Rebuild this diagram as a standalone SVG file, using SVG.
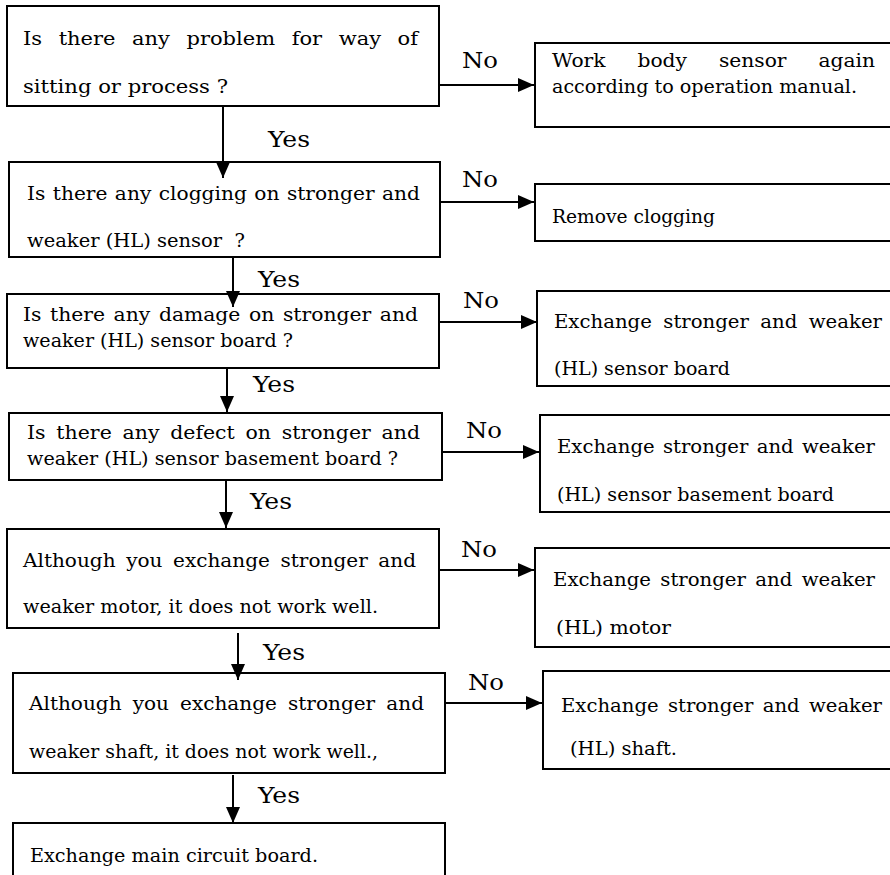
<svg xmlns="http://www.w3.org/2000/svg" width="890" height="875" viewBox="0 0 890 875">
<style>
.box{fill:#fff;stroke:#000;stroke-width:2}
.t{font-family:"DejaVu Serif","Liberation Serif",serif;font-size:19px;fill:#000}
.lbl{font-family:"DejaVu Serif","Liberation Serif",serif;font-size:23px;fill:#000}
.c{stroke:#000;stroke-width:2;fill:none}
</style>
<defs>
<marker id="ah" markerUnits="userSpaceOnUse" markerWidth="16" markerHeight="14" refX="16" refY="7" orient="auto">
<path d="M0,0 L16,7 L0,14 z" fill="#000"/>
</marker>
</defs>
<rect width="890" height="875" fill="#fff"/>
<g id="n1"><rect class="box" x="7" y="6" width="432" height="100"/>
<text class="t" x="23" y="45" word-spacing="9" textLength="395" lengthAdjust="spacingAndGlyphs">Is there any problem for way of</text>
<text class="t" x="23" y="93" textLength="205" lengthAdjust="spacingAndGlyphs">sitting or process ?</text></g>
<g id="n2"><rect class="box" x="9" y="162" width="431" height="95"/>
<text class="t" x="27" y="200" word-spacing="1" textLength="393" lengthAdjust="spacingAndGlyphs">Is there any clogging on stronger and</text>
<text class="t" x="27" y="247" textLength="218" lengthAdjust="spacingAndGlyphs" xml:space="preserve">weaker (HL) sensor  ?</text></g>
<g id="n3"><rect class="box" x="7" y="294" width="432" height="74"/>
<text class="t" x="23" y="321" word-spacing="2" textLength="395" lengthAdjust="spacingAndGlyphs">Is there any damage on stronger and</text>
<text class="t" x="23" y="347" textLength="270" lengthAdjust="spacingAndGlyphs">weaker (HL) sensor board ?</text></g>
<g id="n4"><rect class="box" x="9" y="413" width="433" height="67"/>
<text class="t" x="27" y="439" word-spacing="4" textLength="393" lengthAdjust="spacingAndGlyphs">Is there any defect on stronger and</text>
<text class="t" x="27" y="465" textLength="371" lengthAdjust="spacingAndGlyphs">weaker (HL) sensor basement board ?</text></g>
<g id="n5"><rect class="box" x="7" y="529" width="432" height="99"/>
<text class="t" x="23" y="567" word-spacing="4" textLength="393" lengthAdjust="spacingAndGlyphs">Although you exchange stronger and</text>
<text class="t" x="23" y="613" textLength="355" lengthAdjust="spacingAndGlyphs">weaker motor, it does not work well.</text></g>
<g id="n6"><rect class="box" x="13" y="673" width="432" height="100"/>
<text class="t" x="29" y="710" word-spacing="4.5" textLength="395" lengthAdjust="spacingAndGlyphs">Although you exchange stronger and</text>
<text class="t" x="29" y="758" textLength="349" lengthAdjust="spacingAndGlyphs">weaker shaft, it does not work well.,</text></g>
<g id="n7"><rect class="box" x="13" y="823" width="432" height="62"/>
<text class="t" x="30" y="862" textLength="288" lengthAdjust="spacingAndGlyphs">Exchange main circuit board.</text></g>
<g id="r1"><rect class="box" x="535" y="43" width="362" height="84"/>
<text class="t" x="552" y="67" word-spacing="24" textLength="323" lengthAdjust="spacingAndGlyphs">Work body sensor again</text>
<text class="t" x="552" y="93" textLength="305" lengthAdjust="spacingAndGlyphs">according to operation manual.</text></g>
<g id="r2"><rect class="box" x="535" y="184" width="362" height="57"/>
<text class="t" x="552" y="223" textLength="163" lengthAdjust="spacingAndGlyphs">Remove clogging</text></g>
<g id="r3"><rect class="box" x="537" y="291" width="360" height="95"/>
<text class="t" x="554" y="328" word-spacing="5" textLength="328" lengthAdjust="spacingAndGlyphs">Exchange stronger and weaker</text>
<text class="t" x="554" y="375" textLength="176" lengthAdjust="spacingAndGlyphs">(HL) sensor board</text></g>
<g id="r4"><rect class="box" x="540" y="415" width="357" height="97"/>
<text class="t" x="557" y="453" word-spacing="2" textLength="318" lengthAdjust="spacingAndGlyphs">Exchange stronger and weaker</text>
<text class="t" x="557" y="501" textLength="277" lengthAdjust="spacingAndGlyphs">(HL) sensor basement board</text></g>
<g id="r5"><rect class="box" x="535" y="548" width="362" height="99"/>
<text class="t" x="553" y="586" word-spacing="3" textLength="322" lengthAdjust="spacingAndGlyphs">Exchange stronger and weaker</text>
<text class="t" x="556" y="634" textLength="115" lengthAdjust="spacingAndGlyphs">(HL) motor</text></g>
<g id="r6"><rect class="box" x="543" y="671" width="354" height="98"/>
<text class="t" x="561" y="712" word-spacing="3" textLength="321" lengthAdjust="spacingAndGlyphs">Exchange stronger and weaker</text>
<text class="t" x="570" y="755" textLength="107" lengthAdjust="spacingAndGlyphs">(HL) shaft.</text></g>
<g id="connectors">
<line class="c" x1="223" y1="106" x2="223" y2="178" marker-end="url(#ah)"/>
<line class="c" x1="233" y1="257" x2="233" y2="307" marker-end="url(#ah)"/>
<line class="c" x1="227" y1="368" x2="227" y2="412" marker-end="url(#ah)"/>
<line class="c" x1="226" y1="480" x2="226" y2="528" marker-end="url(#ah)"/>
<line class="c" x1="238" y1="633" x2="238" y2="680" marker-end="url(#ah)"/>
<line class="c" x1="233" y1="775" x2="233" y2="823" marker-end="url(#ah)"/>
<line class="c" x1="439" y1="85" x2="534" y2="85" marker-end="url(#ah)"/>
<line class="c" x1="440" y1="202" x2="534" y2="202" marker-end="url(#ah)"/>
<line class="c" x1="439" y1="322" x2="537" y2="322" marker-end="url(#ah)"/>
<line class="c" x1="442" y1="452" x2="539" y2="452" marker-end="url(#ah)"/>
<line class="c" x1="439" y1="570" x2="534" y2="570" marker-end="url(#ah)"/>
<line class="c" x1="445" y1="703" x2="542" y2="703" marker-end="url(#ah)"/>
<text class="lbl" x="268" y="147" textLength="42" lengthAdjust="spacingAndGlyphs">Yes</text>
<text class="lbl" x="258" y="287" textLength="42" lengthAdjust="spacingAndGlyphs">Yes</text>
<text class="lbl" x="253" y="392" textLength="42" lengthAdjust="spacingAndGlyphs">Yes</text>
<text class="lbl" x="250" y="509" textLength="42" lengthAdjust="spacingAndGlyphs">Yes</text>
<text class="lbl" x="263" y="660" textLength="42" lengthAdjust="spacingAndGlyphs">Yes</text>
<text class="lbl" x="258" y="803" textLength="42" lengthAdjust="spacingAndGlyphs">Yes</text>
<text class="lbl" x="462" y="68" textLength="36" lengthAdjust="spacingAndGlyphs">No</text>
<text class="lbl" x="462" y="187" textLength="36" lengthAdjust="spacingAndGlyphs">No</text>
<text class="lbl" x="463" y="308" textLength="36" lengthAdjust="spacingAndGlyphs">No</text>
<text class="lbl" x="466" y="438" textLength="36" lengthAdjust="spacingAndGlyphs">No</text>
<text class="lbl" x="461" y="557" textLength="36" lengthAdjust="spacingAndGlyphs">No</text>
<text class="lbl" x="468" y="690" textLength="36" lengthAdjust="spacingAndGlyphs">No</text>
</g>
</svg>
